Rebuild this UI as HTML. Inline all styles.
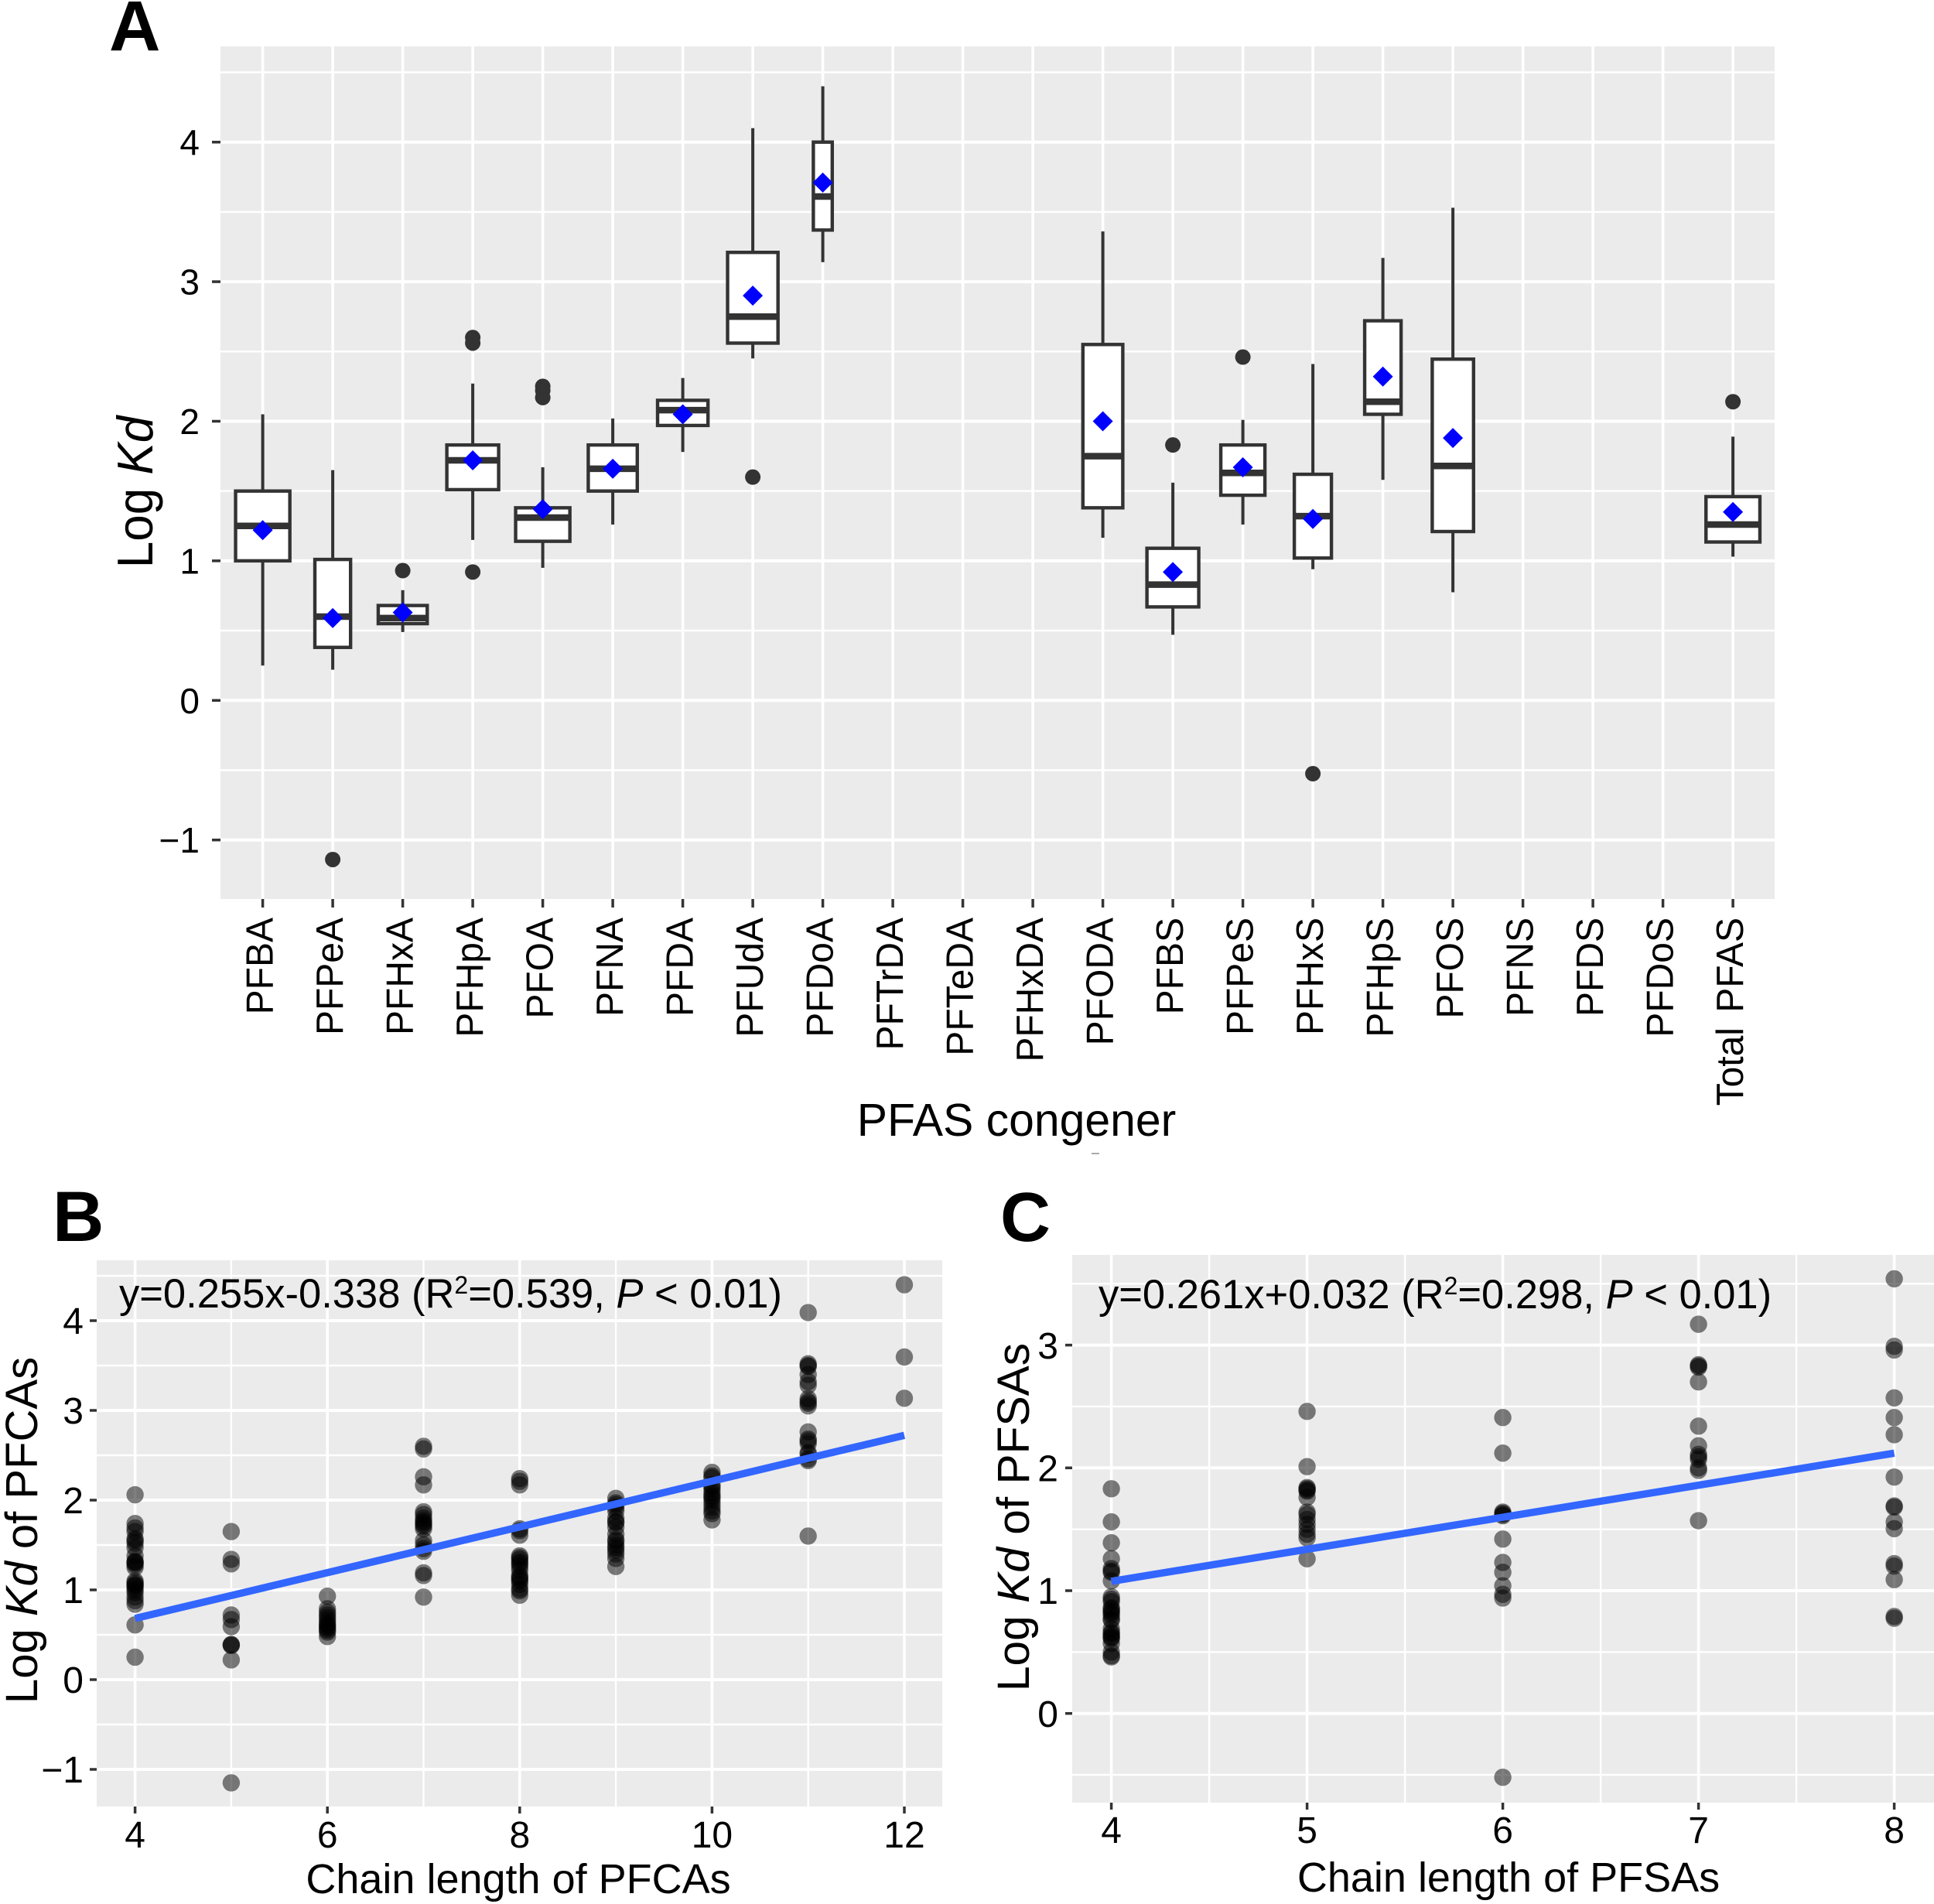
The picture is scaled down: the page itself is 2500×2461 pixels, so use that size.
<!DOCTYPE html>
<html lang="en">
<head>
<meta charset="utf-8">
<title>Log Kd of PFAS congeners</title>
<style>
html,body{margin:0;padding:0;background:#fff}
svg{display:block}
text{font-family:"Liberation Sans",Arial,sans-serif;fill:#000}
</style>
</head>
<body>
<svg id="fig" xmlns="http://www.w3.org/2000/svg" width="2500" height="2461" viewBox="0 0 2500 2461">
<rect x="0" y="0" width="2500" height="2461" fill="#fff"/>
<rect x="285" y="60" width="2009" height="1102" fill="#ebebeb"/>
<rect x="125" y="1629" width="1093" height="706" fill="#ebebeb"/>
<rect x="1386" y="1622" width="1114" height="708" fill="#ebebeb"/>
<g id="panelA"></g>
<g id="panelB"></g>
<g id="panelC"></g>
<text x="141" y="65" font-size="92" font-weight="700">A</text>
<text x="68" y="1604" font-size="92" font-weight="700">B</text>
<text x="1293" y="1604" font-size="90" font-weight="700">C</text>
<text transform="translate(197,636) rotate(-90) scale(1,1.04)" text-anchor="middle" font-size="62">Log <tspan font-style="italic">Kd</tspan></text>
<text x="1314" y="1468" text-anchor="middle" font-size="58.9">PFAS congener</text>
<text transform="translate(48,1978) rotate(-90)" text-anchor="middle" font-size="58">Log <tspan font-style="italic">Kd</tspan> of PFCAs</text>
<text x="670" y="2447" text-anchor="middle" font-size="54">Chain length of PFCAs</text>
<text x="154" y="1690" font-size="52.5">y=0.255x-0.338 (R<tspan font-size="32" dy="-18">2</tspan><tspan dy="18">=0.539, </tspan><tspan font-style="italic">P</tspan> &lt; 0.01)</text>
<text transform="translate(1330,1961) rotate(-90)" text-anchor="middle" font-size="58.7">Log <tspan font-style="italic">Kd</tspan> of PFSAs</text>
<text x="1950" y="2445" text-anchor="middle" font-size="54">Chain length of PFSAs</text>
<text x="1420" y="1691" font-size="52.5">y=0.261x+0.032 (R<tspan font-size="32" dy="-18">2</tspan><tspan dy="18">=0.298, </tspan><tspan font-style="italic">P</tspan> &lt; 0.01)</text>
<rect x="1411" y="1490" width="10" height="2" fill="#aaa"/>
</svg>
<script>
// ---------- Panel A data ----------
const congeners = ['PFBA','PFPeA','PFHxA','PFHpA','PFOA','PFNA','PFDA','PFUdA','PFDoA','PFTrDA','PFTeDA','PFHxDA','PFODA','PFBS','PFPeS','PFHxS','PFHpS','PFOS','PFNS','PFDS','PFDoS','Total PFAS'];
const q1 = [1.00,0.38,0.55,1.51,1.14,1.50,1.97,2.56,3.37,null,null,null,1.38,0.67,1.47,1.02,2.05,1.21,null,null,null,1.135];
const medians = [1.25,0.60,0.59,1.72,1.31,1.66,2.08,2.75,3.61,null,null,null,1.75,0.83,1.63,1.32,2.14,1.68,null,null,null,1.26];
const q3 = [1.50,1.01,0.68,1.83,1.38,1.83,2.15,3.21,4.00,null,null,null,2.55,1.09,1.83,1.62,2.72,2.445,null,null,null,1.46];
const whiskerLow = [0.25,0.22,0.49,1.15,0.95,1.26,1.78,2.45,3.14,null,null,null,1.165,0.47,1.26,0.94,1.58,0.775,null,null,null,1.03];
const whiskerHigh = [2.05,1.65,0.79,2.27,1.67,2.02,2.31,4.10,4.40,null,null,null,3.36,1.56,2.01,2.41,3.17,3.53,null,null,null,1.89];
const means = [1.22,0.59,0.63,1.72,1.37,1.66,2.05,2.90,3.71,null,null,null,2.00,0.92,1.67,1.30,2.32,1.88,null,null,null,1.35];
const outliers = [[],[-1.14],[0.93],[2.60,2.56,0.92],[2.25,2.22,2.17],[],[],[1.60],[],[],[],[],[],[1.83],[2.46],[-0.525],[],[],[],[],[],[2.14]];
const boxWidths = [0.775,0.51,0.70,0.74,0.775,0.70,0.72,0.72,0.27,0,0,0,0.57,0.74,0.63,0.53,0.52,0.59,0,0,0,0.77];
const yTicksA = [-1,0,1,2,3,4];
const yMinorA = [-0.5,0.5,1.5,2.5,3.5,4.5];

// ---------- Panel B data ----------
const chainB = [4,5,6,7,8,9,10,11,12];
const kdB = [
 [2.06,1.74,1.69,1.65,1.57,1.55,1.52,1.47,1.38,1.32,1.31,1.30,1.28,1.25,1.10,1.08,1.06,1.05,1.03,1.00,0.97,0.92,0.88,0.84,0.61,0.25],
 [1.65,1.34,1.29,0.72,0.67,0.59,0.39,0.39,0.38,0.22,-1.15],
 [0.93,0.79,0.75,0.72,0.69,0.66,0.63,0.61,0.59,0.57,0.55,0.53,0.48],
 [2.60,2.57,2.26,2.17,1.87,1.84,1.80,1.77,1.75,1.73,1.71,1.68,1.55,1.50,1.46,1.43,1.19,1.16,0.92],
 [2.24,2.21,2.17,1.68,1.66,1.61,1.38,1.36,1.34,1.31,1.29,1.26,1.22,1.16,1.14,1.12,1.10,1.06,1.01,0.99,0.94],
 [2.02,1.97,1.95,1.92,1.88,1.80,1.76,1.75,1.70,1.62,1.56,1.54,1.50,1.47,1.44,1.40,1.35,1.26],
 [2.31,2.27,2.25,2.17,2.15,2.12,2.08,2.05,2.03,2.00,1.96,1.92,1.88,1.85,1.78],
 [4.09,3.52,3.50,3.49,3.40,3.32,3.28,3.13,3.10,3.08,3.05,2.76,2.68,2.66,2.63,2.53,2.51,2.46,2.44,1.60],
 [4.40,3.595,3.135]
];
const fitB = [0.255,-0.338];
const fitRangeB = [4,12];
const xTicksB = [4,6,8,10,12];
const xMinorB = [5,7,9,11];
const yTicksB = [-1,0,1,2,3,4];
const yMinorB = [-0.5,0.5,1.5,2.5,3.5,4.5];

// ---------- Panel C data ----------
const chainC = [4,5,6,7,8];
const kdC = [
 [1.83,1.56,1.39,1.26,1.18,1.16,1.15,1.08,0.95,0.93,0.91,0.86,0.85,0.83,0.82,0.80,0.77,0.76,0.69,0.66,0.65,0.63,0.62,0.61,0.57,0.50,0.47,0.46],
 [2.46,2.01,1.84,1.83,1.82,1.81,1.76,1.64,1.62,1.58,1.54,1.50,1.46,1.43,1.26],
 [2.41,2.12,1.64,1.63,1.62,1.61,1.42,1.23,1.15,1.04,0.97,0.94,-0.52],
 [3.17,2.84,2.83,2.82,2.70,2.34,2.18,2.11,2.09,2.07,2.00,1.98,1.57],
 [3.54,2.99,2.96,2.57,2.41,2.27,1.925,1.69,1.68,1.56,1.505,1.22,1.20,1.09,0.79,0.775]
];
const fitC = [0.261,0.032];
const fitRangeC = [4,8];
const xTicksC = [4,5,6,7,8];
const xMinorC = [4.5,5.5,6.5,7.5];
const yTicksC = [0,1,2,3];
const yMinorC = [-0.5,0.5,1.5,2.5,3.5];

// ---------- helpers ----------
const NS = 'http://www.w3.org/2000/svg';
function mk(parent, tag, attrs, txt) {
  const el = document.createElementNS(NS, tag);
  for (const k in attrs) el.setAttribute(k, attrs[k]);
  if (txt !== undefined) el.textContent = txt;
  parent.appendChild(el);
  return el;
}
const fmtTick = v => (v < 0 ? '\u2212' + Math.abs(v) : String(v));

function drawFrame(g, o) {
  o.yMinor.forEach(v => {
    const el = mk(g, 'line', {x1:o.left, x2:o.right, y1:o.y(v), y2:o.y(v), stroke:'#fff', 'stroke-width':2.4});
    
    
  });
  o.xMinor.forEach(v => {
    const el = mk(g, 'line', {x1:o.x(v), x2:o.x(v), y1:o.top, y2:o.bottom, stroke:'#fff', 'stroke-width':2.4});
    
    
  });
  o.yTicks.forEach(v => {
    const el = mk(g, 'line', {x1:o.left, x2:o.right, y1:o.y(v), y2:o.y(v), stroke:'#fff', 'stroke-width':4});
    
    
    const t = mk(g, 'line', {x1:o.left - o.tickLen, x2:o.left, y1:o.y(v), y2:o.y(v), stroke:'#333', 'stroke-width':3.5});
    
    
    const l = mk(g, 'text', {x:o.left - o.labelGap, y:o.y(v) + o.tickFont * 0.358, 'text-anchor':'end', 'font-size':o.tickFont}, fmtTick(v));
    
    
  });
  o.xTicks.forEach(v => {
    const el = mk(g, 'line', {x1:o.x(v), x2:o.x(v), y1:o.top, y2:o.bottom, stroke:'#fff', 'stroke-width':3.6});
    
    
    const t = mk(g, 'line', {x1:o.x(v), x2:o.x(v), y1:o.bottom, y2:o.bottom + o.tickLen, stroke:'#333', 'stroke-width':3.5});
    
    
    if (o.xBase) {
      const l = mk(g, 'text', {x:o.x(v), y:o.xBase, 'text-anchor':'middle', 'font-size':o.tickFont}, fmtTick(v));
      
      
    }
  });
}

// ---------- Panel A ----------
const xA = i => 339.6 + 90.5 * i;
const yA = v => 905.3 - 180.4 * v;
const gA = document.getElementById('panelA');
drawFrame(gA, {left:285, right:2294, top:60, bottom:1162, x:xA, y:yA,
  yTicks:yTicksA, yMinor:yMinorA, xTicks:congeners.map((c,i)=>i), xMinor:[],
  tickLen:11, labelGap:27, tickFont:46});
congeners.forEach((name, i) => {
  const lab = mk(gA, 'text', {transform:`translate(${xA(i)+13},1186) rotate(-90) scale(1,1.03)`, 'text-anchor':'end', 'font-size':48, 'word-spacing':6}, name);
  
  
  if (q1[i] === null) return;
  const hw = boxWidths[i] * 90.5 / 2;
  const w1 = mk(gA, 'line', {x1:xA(i), x2:xA(i), y1:yA(whiskerHigh[i]), y2:yA(q3[i]), stroke:'#333', 'stroke-width':4});
  
  
  const w2 = mk(gA, 'line', {x1:xA(i), x2:xA(i), y1:yA(q1[i]), y2:yA(whiskerLow[i]), stroke:'#333', 'stroke-width':4});
  
  
  const box = mk(gA, 'rect', {x:xA(i)-hw, y:yA(q3[i]), width:hw*2, height:yA(q1[i])-yA(q3[i]), fill:'#fff', stroke:'#333', 'stroke-width':4.4});
  
  
  const med = mk(gA, 'line', {x1:xA(i)-hw, x2:xA(i)+hw, y1:yA(medians[i]), y2:yA(medians[i]), stroke:'#333', 'stroke-width':8.5});
  
  
  outliers[i].forEach(v => {
    const c = mk(gA, 'circle', {cx:xA(i), cy:yA(v), r:10, fill:'#333'});
    
    
  });
  const mx = xA(i), my = yA(means[i]), d = 13;
  const dm = mk(gA, 'polygon', {points:`${mx-d},${my} ${mx},${my-d} ${mx+d},${my} ${mx},${my+d}`, fill:'#0000ff'});
  
  
});

// ---------- Panels B and C ----------
function drawScatter(g, o, chain, kd, fit, range) {
  drawFrame(g, o);
  chain.forEach((cx, i) => {
    kd[i].forEach(v => {
      const c = mk(g, 'circle', {cx:o.x(cx), cy:o.y(v), r:11.2, fill:'#000', 'fill-opacity':0.5});
      
      
    });
  });
  const ln = mk(g, 'line', {x1:o.x(range[0]), x2:o.x(range[1]),
    y1:o.y(fit[0]*range[0]+fit[1]), y2:o.y(fit[0]*range[1]+fit[1]), stroke:'#3366ff', 'stroke-width':9.5});
  
  
}
drawScatter(document.getElementById('panelB'), {left:125, right:1218, top:1629, bottom:2335,
  x:v => 174.6 + 124.3 * (v - 4), y:v => 2171 - 116 * v,
  yTicks:yTicksB, yMinor:yMinorB, xTicks:xTicksB, xMinor:xMinorB,
  tickLen:9, labelGap:17, tickFont:48, xBase:2388}, chainB, kdB, fitB, fitRangeB);
drawScatter(document.getElementById('panelC'), {left:1386, right:2500, top:1622, bottom:2330,
  x:v => 1436.6 + 253 * (v - 4), y:v => 2214.7 - 158.7 * v,
  yTicks:yTicksC, yMinor:yMinorC, xTicks:xTicksC, xMinor:xMinorC,
  tickLen:9, labelGap:18, tickFont:48, xBase:2382}, chainC, kdC, fitC, fitRangeC);
</script>
</body>
</html>
